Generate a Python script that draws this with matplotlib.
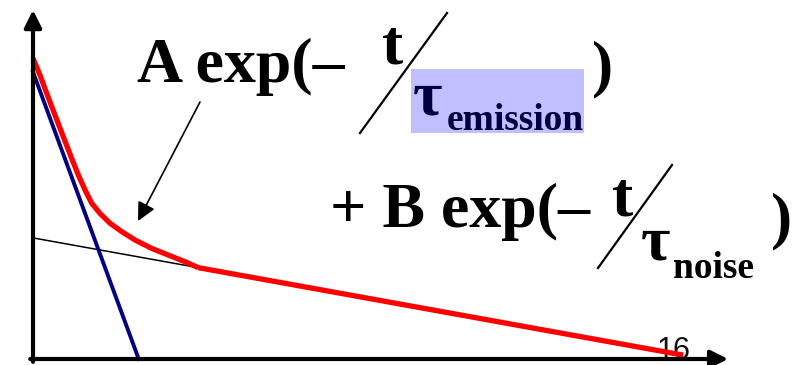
import matplotlib.pyplot as plt
from matplotlib.patches import Rectangle
from matplotlib.lines import Line2D
from matplotlib import font_manager as fm

# measured signal (arbitrary units)
t_sum = [0.00, 0.10, 0.196, 0.314, 0.433, 0.553, 0.647, 0.743, 0.839, 0.957,
         1.10, 1.267, 1.457, 1.696, 1.933, 2.171, 2.361]
y_sum = [8.59, 8.11, 7.59, 6.97, 6.35, 5.73, 5.26, 4.83, 4.45, 4.16,
         3.88, 3.64, 3.40, 3.16, 2.97, 2.78, 2.61]
t_tail = [2.361, 9.29]
y_tail = [2.61, 0.11]

# fast (emission) component
t_fast = [0.00, 1.51]
y_fast = [8.20, 0.00]

# slow (noise) component, extrapolated back to t = 0
t_slow = [0.00, 2.361]
y_slow = [3.46, 2.61]

t_axis_end = 9.93
y_axis_end = 9.97

W, H = 799, 365
fig = plt.figure(figsize=(W / 100, H / 100), dpi=100)
ax = fig.add_axes([0, 0, 1, 1])
ax.set_xlim(-33 / 70, (W - 33) / 70)
ax.set_ylim(-6 / 35, (H - 6) / 35)
ax.axis('off')


def fp(x, y):
    # pixel position (top-left origin) -> figure fraction
    return x / W, 1 - y / H


serif_bold = fm.findfont(fm.FontProperties(family='Liberation Serif', weight='bold'))
navy = '#000040'

# axes with arrow heads
arrow_kw = dict(arrowstyle='-|>', lw=3, color='black', mutation_scale=26,
                shrinkA=0, shrinkB=0)
ax.annotate('', xy=(t_axis_end, 0), xytext=(-0.04, 0), arrowprops=arrow_kw, zorder=4)
ax.annotate('', xy=(0, y_axis_end), xytext=(0, -0.08), arrowprops=arrow_kw, zorder=4)

# slide number sits under the curves
x, y = fp(657, 359)
ax.text(x, y, '16', transform=fig.transFigure, fontsize=22, family='Liberation Sans',
        ha='left', va='baseline', color='#111111', zorder=1)

ax.plot(t_slow, y_slow, color='black', lw=1.1, zorder=2)
ax.plot(t_fast, y_fast, color='#000080', lw=2.8, zorder=2)
ax.plot(t_sum, y_sum, color='red', lw=3.8, solid_capstyle='butt',
        solid_joinstyle='round', zorder=3)
ax.plot(t_tail, y_tail, color='red', lw=3.8, solid_capstyle='butt', zorder=3)

# pointer to the curved part
ax.annotate('', xy=fp(138, 221), xycoords='figure fraction',
            xytext=fp(200, 102), textcoords='figure fraction',
            arrowprops=dict(arrowstyle='-|>', lw=1.2, color='black',
                            mutation_scale=28, shrinkA=0, shrinkB=0))


def label(px, py, s, size, color='black'):
    x, y = fp(px, py)
    ax.text(x, y, s, transform=fig.transFigure,
            fontproperties=fm.FontProperties(fname=serif_bold, size=size),
            ha='left', va='baseline', color=color, zorder=5)


def slash(x0, y0, x1, y1):
    a, b = fp(x0, y0)
    c, d = fp(x1, y1)
    fig.add_artist(Line2D([a, c], [b, d], color='black', lw=1.6,
                          transform=fig.transFigure))


# first term
label(137, 82, 'A exp(\u2013', 46)
label(382, 64, 't', 46)
slash(447, 13, 360, 133)
rx, ry = fp(411, 133)
ax.add_patch(Rectangle((rx, ry), 173 / W, 64 / H, transform=fig.transFigure,
                       facecolor='#c0c0ff', edgecolor='none', zorder=1))
label(413, 115, '\u03c4', 46, navy)
label(447, 130, 'emission', 27, navy)
label(592, 84, ')', 46)

# second term
label(330, 227, '+ B exp(\u2013', 46)
label(612, 215, 't', 46)
slash(672, 165, 598, 268)
label(641, 260, '\u03c4', 46)
label(673, 278, 'noise', 27)
label(771, 236, ')', 46)

fig.savefig('out.png', dpi=100)
